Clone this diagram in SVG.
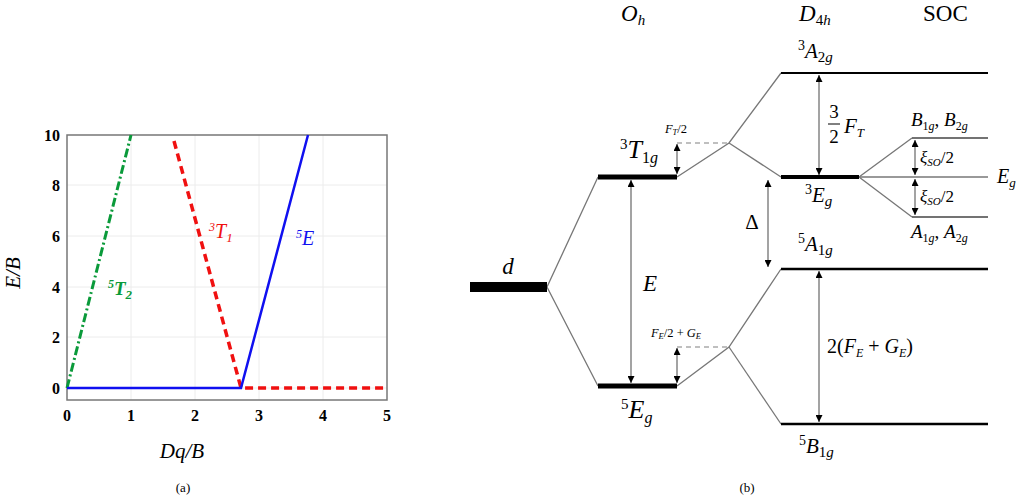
<svg xmlns="http://www.w3.org/2000/svg" width="1020" height="500" viewBox="0 0 1020 500" font-family="'Liberation Serif', 'Times New Roman', serif">
<style>
text,tspan{font-family:"Liberation Serif","Times New Roman",serif}
.t{fill:#000}
.i{font-style:italic}
.n{font-style:normal}
.tick{font-size:16px;font-weight:bold;text-anchor:middle}
.big{font-size:26px;font-style:italic}
.lvl{font-size:21px;font-style:italic}
.sm{font-size:12.5px;font-style:italic}
.thin{stroke:#777;stroke-width:1.3;fill:none}
.dash{stroke:#aaa;stroke-width:1.3;stroke-dasharray:5,4;fill:none}
.arr{stroke:#666;stroke-width:1.2;fill:none;marker-start:url(#ah);marker-end:url(#ah)}
.grid{stroke:#ececec;stroke-width:1}
</style>
<defs>
<marker id="ah" viewBox="0 0 10 10" refX="10" refY="5" markerWidth="7" markerHeight="7" markerUnits="userSpaceOnUse" orient="auto-start-reverse">
<path d="M0,0 L10,5 L0,10 z" fill="#000"/>
</marker>
</defs>
<rect width="1020" height="500" fill="#fff"/>

<!-- Panel (a) -->
<g id="panel-a">
<g id="grid">
<line class="grid" x1="131" y1="135" x2="131" y2="400"/>
<line class="grid" x1="195" y1="135" x2="195" y2="400"/>
<line class="grid" x1="259" y1="135" x2="259" y2="400"/>
<line class="grid" x1="323" y1="135" x2="323" y2="400"/>
<line class="grid" x1="67" y1="185" x2="387" y2="185"/>
<line class="grid" x1="67" y1="236" x2="387" y2="236"/>
<line class="grid" x1="67" y1="287" x2="387" y2="287"/>
<line class="grid" x1="67" y1="337" x2="387" y2="337"/>
<line class="grid" x1="67" y1="388" x2="387" y2="388"/>
</g>
<rect x="67" y="135" width="320" height="265" fill="none" stroke="#777" stroke-width="1.5"/>
<g id="yticks" class="t tick" style="text-anchor:end">
<text x="60" y="141">10</text>
<text x="60" y="191">8</text>
<text x="60" y="242">6</text>
<text x="60" y="293">4</text>
<text x="60" y="343">2</text>
<text x="60" y="394">0</text>
</g>
<g id="xticks" class="t tick">
<text x="67" y="421">0</text>
<text x="131" y="421">1</text>
<text x="195" y="421">2</text>
<text x="259" y="421">3</text>
<text x="323" y="421">4</text>
<text x="387" y="421">5</text>
</g>
<text class="t i" x="182" y="458" font-size="21" text-anchor="middle">Dq/B</text>
<text class="t" x="183" y="492" font-size="13" text-anchor="middle">(a)</text>
<text class="t i" transform="translate(20,273) rotate(-90)" font-size="21" text-anchor="middle">E/B</text>
<g id="curve-5T2">
<polyline points="67,388 131,135" fill="none" stroke="#0a9a3a" stroke-width="3" stroke-dasharray="9,3,2,3"/>
<text class="i" x="108" y="295" font-size="19" font-weight="bold" fill="#0a9a3a"><tspan font-size="12" dy="-7">5</tspan><tspan dy="7">T</tspan><tspan font-size="13" dy="4">2</tspan></text>
</g>
<g id="curve-3T1">
<polyline points="174,141 241,388 387,388" fill="none" stroke="#f01010" stroke-width="3.5" stroke-dasharray="8,5"/>
<text class="i" x="209" y="238" font-size="20" fill="#f01010"><tspan font-size="12" dy="-7">3</tspan><tspan dy="7">T</tspan><tspan font-size="13" dy="4">1</tspan></text>
</g>
<g id="curve-5E">
<polyline points="67,388 241,388 308,135" fill="none" stroke="#1010f0" stroke-width="2.5"/>
<text class="i" x="296" y="245" font-size="20" fill="#1010f0"><tspan font-size="12" dy="-7">5</tspan><tspan dy="7">E</tspan></text>
</g>
</g>

<!-- Panel (b) -->
<g id="headers" class="t">
<text x="621" y="21" font-size="23" class="i">O<tspan font-size="15" dy="4">h</tspan></text>
<text x="799" y="21" font-size="23" class="i">D<tspan font-size="15" dy="4" class="n">4</tspan><tspan font-size="15">h</tspan></text>
<text x="923" y="21" font-size="23">SOC</text>
</g>

<g id="connectors">
<polyline class="thin" points="598,177 547,287 598,386"/>
<polyline class="thin" points="677,177 729,143 781,73"/>
<line class="thin" x1="729" y1="143" x2="781" y2="177"/>
<polyline class="thin" points="677,386 729,347 781,269"/>
<line class="thin" x1="729" y1="347" x2="781" y2="424"/>
<polyline class="thin" points="912,138 859,177 912,217"/>
<line class="thin" x1="859" y1="177" x2="988" y2="177"/>
<line class="dash" x1="677" y1="143" x2="729" y2="143"/>
<line class="dash" x1="677" y1="347" x2="729" y2="347"/>
<line class="arr" x1="631" y1="180" x2="631" y2="383"/>
<line class="arr" x1="677" y1="174" x2="677" y2="144"/>
<line class="arr" x1="677" y1="383" x2="677" y2="348"/>
<line class="arr" x1="819" y1="75" x2="819" y2="175"/>
<line class="arr" x1="768" y1="180" x2="768" y2="267"/>
<line class="arr" x1="819" y1="271" x2="819" y2="422"/>
<line class="arr" x1="915" y1="140" x2="915" y2="175"/>
<line class="arr" x1="915" y1="179" x2="915" y2="215"/>
</g>

<g id="node-d">
<rect x="470" y="282" width="77" height="10" fill="#000"/>
<text class="t i" x="508" y="274" font-size="23" text-anchor="middle">d</text>
</g>
<g id="node-3T1g">
<rect x="598" y="174.5" width="79" height="5" fill="#000"/>
<text class="t big" x="620" y="158"><tspan class="n" font-size="15" dy="-9">3</tspan><tspan dy="9">T</tspan><tspan class="n" font-size="16" dy="5">1</tspan><tspan font-size="16">g</tspan></text>
</g>
<g id="node-5Eg">
<rect x="598" y="383.5" width="79" height="5" fill="#000"/>
<text class="t big" x="621" y="418"><tspan class="n" font-size="15" dy="-9">5</tspan><tspan dy="9">E</tspan><tspan font-size="16" dy="5">g</tspan></text>
</g>
<g id="label-E"><text class="t i" x="650" y="291" font-size="23" text-anchor="middle">E</text></g>
<g id="label-FT2"><text class="t sm" x="676" y="133" text-anchor="middle">F<tspan font-size="8.5" dy="2">T</tspan><tspan class="n" dy="-2">/2</tspan></text></g>
<g id="label-FE2GE"><text class="t sm" x="676" y="337" text-anchor="middle">F<tspan font-size="8.5" dy="2">E</tspan><tspan class="n" dy="-2">/2 + </tspan><tspan>G</tspan><tspan font-size="8.5" dy="2">E</tspan></text></g>

<g id="node-3A2g">
<line x1="781" y1="73" x2="988" y2="73" stroke="#000" stroke-width="2.2"/>
<text class="t lvl" x="798" y="58"><tspan class="n" font-size="14" dy="-8">3</tspan><tspan dy="8">A</tspan><tspan class="n" font-size="15" dy="4">2</tspan><tspan font-size="15">g</tspan></text>
</g>
<g id="node-3Eg">
<rect x="781" y="175" width="78" height="4" fill="#000"/>
<text class="t lvl" x="805" y="202"><tspan class="n" font-size="14" dy="-8">3</tspan><tspan dy="8">E</tspan><tspan font-size="15" dy="4">g</tspan></text>
</g>
<g id="label-32FT" class="t">
<text x="834" y="118" font-size="19" text-anchor="middle">3</text>
<line x1="828" y1="124" x2="840" y2="124" stroke="#000" stroke-width="1"/>
<text x="834" y="143" font-size="19" text-anchor="middle">2</text>
<text x="844" y="133" font-size="21" class="i">F<tspan font-size="13" dy="4">T</tspan></text>
</g>
<g id="label-Delta"><text class="t" x="752" y="229" font-size="21" text-anchor="middle">Δ</text></g>
<g id="node-5A1g">
<line x1="781" y1="269" x2="988" y2="269" stroke="#000" stroke-width="2.5"/>
<text class="t lvl" x="798" y="251"><tspan class="n" font-size="14" dy="-8">5</tspan><tspan dy="8">A</tspan><tspan class="n" font-size="15" dy="4">1</tspan><tspan font-size="15">g</tspan></text>
</g>
<g id="node-5B1g">
<line x1="781" y1="424" x2="988" y2="424" stroke="#000" stroke-width="2.5"/>
<text class="t lvl" x="799" y="453"><tspan class="n" font-size="14" dy="-8">5</tspan><tspan dy="8">B</tspan><tspan class="n" font-size="15" dy="4">1</tspan><tspan font-size="15">g</tspan></text>
</g>
<g id="label-2FEGE"><text class="t" x="827" y="353" font-size="20">2(<tspan class="i">F</tspan><tspan class="i" font-size="12" dy="4">E</tspan><tspan dy="-4"> + </tspan><tspan class="i">G</tspan><tspan class="i" font-size="12" dy="4">E</tspan><tspan dy="-4">)</tspan></text></g>

<g id="node-B1gB2g">
<line x1="912" y1="138" x2="988" y2="138" stroke="#444" stroke-width="1.6"/>
<text class="t i" x="911" y="126" font-size="19">B<tspan class="n" font-size="12" dy="4">1</tspan><tspan font-size="12">g</tspan><tspan class="n" dy="-4">, </tspan><tspan>B</tspan><tspan class="n" font-size="12" dy="4">2</tspan><tspan font-size="12">g</tspan></text>
</g>
<g id="node-Eg">
<text class="t i" x="997" y="183" font-size="20">E<tspan font-size="13" dy="4">g</tspan></text>
</g>
<g id="node-A1gA2g">
<line x1="912" y1="217" x2="988" y2="217" stroke="#444" stroke-width="1.6"/>
<text class="t i" x="911" y="238" font-size="19">A<tspan class="n" font-size="12" dy="4">1</tspan><tspan font-size="12">g</tspan><tspan class="n" dy="-4">, </tspan><tspan>A</tspan><tspan class="n" font-size="12" dy="4">2</tspan><tspan font-size="12">g</tspan></text>
</g>
<g id="label-xi">
<text class="t i" x="920" y="163" font-size="17">ξ<tspan font-size="11" dy="3">SO</tspan><tspan class="n" dy="-3">/2</tspan></text>
<text class="t i" x="920" y="202" font-size="17">ξ<tspan font-size="11" dy="3">SO</tspan><tspan class="n" dy="-3">/2</tspan></text>
</g>
<text class="t" x="747" y="492" font-size="13" text-anchor="middle">(b)</text>
</svg>
